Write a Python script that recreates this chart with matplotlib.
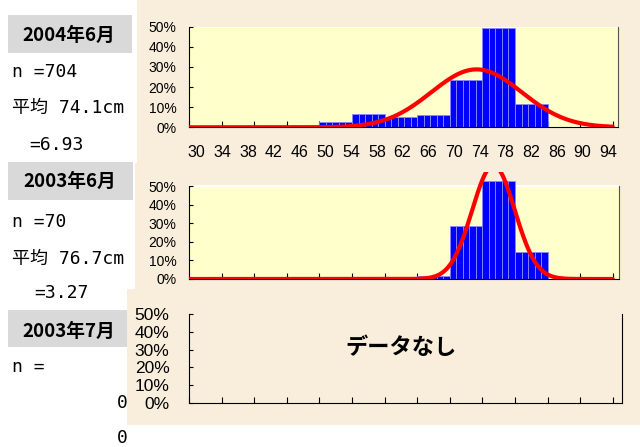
"""
身長分布ヒストグラム（3期間）
"""
import matplotlib
matplotlib.use('Agg')
import matplotlib.pyplot as plt
from matplotlib.patches import Rectangle
import numpy as np

# データ（5cm刻みの階級、%）
bin_edges = np.arange(30, 100, 5)          # 30,35,...,95
hist_2004_06 = [0, 0, 0, 0, 2.5, 6.5, 5.3, 6.0, 23.5, 49.6, 11.6, 0, 0]
hist_2003_06 = [0, 0, 0, 0, 0, 0, 0, 1.4, 28.6, 52.9, 14.3, 0, 0]
mean_2004_06, sd_2004_06, n_2004_06 = 74.1, 6.93, 704
mean_2003_06, sd_2003_06, n_2003_06 = 76.7, 3.27, 70
x_labels = list(range(30, 95, 4))
y_ticks = [0, 10, 20, 30, 40, 50]

W, H = 640, 447
BEIGE = '#f9eddb'
PLOTBG = '#ffffcc'
GRAYBOX = '#d9d9d9'
mono = ['DejaVu Sans Mono', 'Noto Sans CJK JP']
cjk = ['Noto Sans CJK JP', 'DejaVu Sans']
plt.rcParams['font.family'] = ['Liberation Sans', 'DejaVu Sans']

fig = plt.figure(figsize=(6.4, 4.47), dpi=100)
fig.patch.set_facecolor('white')


def px_rect(x0, y0, x1, y1, color, z):
    fig.patches.append(Rectangle((x0 / W, 1 - y1 / H), (x1 - x0) / W, (y1 - y0) / H,
                                 transform=fig.transFigure, facecolor=color,
                                 edgecolor='none', zorder=z))


def px_axes(x0, y0, x1, y1):
    return fig.add_axes([x0 / W, 1 - y1 / H, (x1 - x0) / W, (y1 - y0) / H])


# 背景パネル
px_rect(137, 0, 640, 163, BEIGE, 2)
px_rect(135, 163, 640, 289, BEIGE, 2)
px_rect(127, 289, 640, 425, BEIGE, 2)

# 左側の見出し枠
px_rect(8, 15, 132, 53, GRAYBOX, 1)
px_rect(8, 162, 133, 200, GRAYBOX, 1)
px_rect(8, 310, 132, 347, GRAYBOX, 1)


def ftext(x, y, s, **kw):
    fig.text(x / W, 1 - y / H, s, va='center', **kw)


ftext(69, 35, '2004年6月', ha='center', family=cjk, fontsize=13.5, fontweight='bold', zorder=1)
ftext(12, 72, f'n ={n_2004_06}', family=mono, fontsize=13, zorder=1)
ftext(12, 108, f'平均 {mean_2004_06}cm', family=mono, fontsize=13, zorder=1)
ftext(29, 145, f'={sd_2004_06}', family=mono, fontsize=13, zorder=1)

ftext(70, 181, '2003年6月', ha='center', family=cjk, fontsize=13.5, fontweight='bold', zorder=1)
ftext(12, 222, f'n ={n_2003_06}', family=mono, fontsize=13, zorder=1)
ftext(12, 259, f'平均 {mean_2003_06}cm', family=mono, fontsize=13, zorder=1)
ftext(34, 293, f'={sd_2003_06}', family=mono, fontsize=13, zorder=1)

ftext(69, 331, '2003年7月', ha='center', family=cjk, fontsize=13.5, fontweight='bold', zorder=1)
ftext(12, 367, 'n =', family=mono, fontsize=13, zorder=1)
ftext(117, 403, '0', family=mono, fontsize=13, zorder=1)
ftext(117, 438, '0', family=mono, fontsize=13, zorder=1)


def draw_hist(ax, hist, mean, sd, top):
    ax.set_zorder(3)
    ax.patch.set_alpha(0)
    ax.add_patch(Rectangle((30, 0), 70, 50, facecolor=PLOTBG, edgecolor='none', zorder=0))
    # 1cm刻みのサブバー（階級内は同じ高さ）
    sub_x = np.arange(30, 95)
    sub_h = np.repeat(hist, 5)
    ax.bar(sub_x, sub_h, width=1, align='edge', color='#0000ff',
           edgecolor='#8a8aff', linewidth=0.6, zorder=2, clip_on=False)
    xs = np.linspace(30, 95, 600)
    ys = 5 * 100 * np.exp(-0.5 * ((xs - mean) / sd) ** 2) / (sd * np.sqrt(2 * np.pi))
    ax.plot(xs, ys, color='#ff0000', lw=3, solid_capstyle='round', zorder=3)
    ax.set_ylim(0, top)
    ax.set_yticks(y_ticks)
    ax.set_yticklabels([f'{v}%' for v in y_ticks], fontsize=10)
    ax.set_xticks(bin_edges)
    ax.set_xticklabels([])
    ax.tick_params(axis='x', direction='in', length=4, color='black')
    ax.tick_params(axis='y', direction='in', length=3, pad=9)
    ax.spines['left'].set_bounds(0, 50)
    ax.spines['right'].set_bounds(0, 50)
    ax.spines['right'].set_color('#555555')
    ax.spines['top'].set_visible(False)
    ax.axhline(50, color='white', lw=1.5, zorder=1)


# 2004年6月
ax1 = px_axes(189, 26.7, 618, 127.3)
ax1.set_xlim(30, 30 + (618 - 189) / 6.52)
draw_hist(ax1, hist_2004_06, mean_2004_06, sd_2004_06, 50)
label_pos = np.linspace(31.2, 94.3, len(x_labels))
sec = ax1.secondary_xaxis('bottom')
sec.set_xticks(label_pos)
sec.set_xticklabels([str(v) for v in x_labels])
sec.tick_params(length=0, pad=13, labelsize=11.5)
sec.spines['bottom'].set_visible(False)

# 2003年6月（上端は枠外まではみ出す）
ax2 = px_axes(189, 171.5, 619, 279)
ax2.set_xlim(30, 30 + (619 - 189) / 6.52)
draw_hist(ax2, hist_2003_06, mean_2003_06, sd_2003_06, 50 * (279 - 171.5) / (279 - 186))

# 2003年7月（データなし）
ax3 = px_axes(189, 314.3, 621.7, 402.7)
ax3.set_zorder(3)
ax3.patch.set_alpha(0)
ax3.set_xlim(30, 30 + (621.7 - 189) / 6.52)
ax3.set_ylim(0, 50)
ax3.set_yticks(y_ticks)
ax3.set_yticklabels([f'{v}%' for v in y_ticks], fontsize=12.5)
ax3.set_xticks(bin_edges)
ax3.set_xticklabels([])
ax3.tick_params(axis='x', direction='in', length=4)
ax3.tick_params(axis='y', direction='in', length=3, pad=14)
ax3.spines['top'].set_visible(False)
fig.text(401 / W, 1 - 347 / H, 'データなし', ha='center', va='center',
         family=cjk, fontsize=16, fontweight='bold', zorder=4)

fig.savefig('out.png', dpi=100)
